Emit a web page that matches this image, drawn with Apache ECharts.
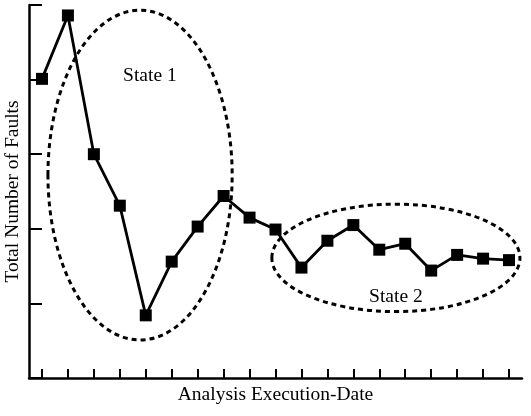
<!DOCTYPE html>
<html lang="en">
<head>
    <meta charset="UTF-8">
    <title>Total Number of Faults</title>
    <script src="https://cdn.jsdelivr.net/npm/echarts@6/dist/echarts.min.js"></script>
    <style>
      html, body { margin: 0; padding: 0; background: #fff; }
      #chart { width: 531px; height: 416px; }
    </style>
</head>
<body>
<div id="chart"></div>
<script>
  // data (y axis has no labels, 5 equal steps)
  let dates = ['1','2','3','4','5','6','7','8','9','10','11','12','13','14','15','16','17','18','19'];
  let faults = [40.1, 48.6, 30.0, 23.1, 8.4, 15.6, 20.3, 24.4, 21.5, 19.9, 14.8, 18.4, 20.5, 17.2, 18.0, 14.4, 16.5, 16.0, 15.8];
  let yTicks = [0, 10, 20, 30, 40, 50];

  // ellipses in data units: [centre index, centre value, half width (categories), half height (value)]
  let state1 = [3.78, 27.2, 3.55, 22.1];
  let state2 = [13.64, 16.1, 4.78, 7.2];

  const font = '"Liberation Serif", "Times New Roman", serif';

  const chart = echarts.init(document.getElementById('chart'));

  chart.setOption({
    animation: false,
    grid: { left: 29, right: 9, top: 5, bottom: 38, outerBoundsMode: 'none', containLabel: false },
    xAxis: {
      type: 'category',
      data: dates,
      boundaryGap: true,
      name: 'Analysis Execution-Date',
      nameLocation: 'middle',
      nameGap: 7,
      nameTextStyle: { fontFamily: font, fontSize: 19.5, color: '#000' },
      axisLine: { show: true, lineStyle: { color: '#000', width: 2.5 } },
      axisTick: { show: true, interval: 0, inside: true, length: 9, alignWithLabel: true, lineStyle: { color: '#000', width: 2 } },
      axisLabel: { show: false, interval: 0 },
      splitLine: { show: false }
    },
    yAxis: {
      type: 'value',
      min: yTicks[0],
      max: yTicks[yTicks.length - 1],
      interval: yTicks[1] - yTicks[0],
      name: 'Total Number of Faults',
      nameLocation: 'middle',
      nameGap: 6,
      nameTextStyle: { fontFamily: font, fontSize: 19.5, color: '#000' },
      axisLine: { show: true, lineStyle: { color: '#000', width: 2.5 } },
      axisTick: { show: true, inside: true, length: 13, lineStyle: { color: '#000', width: 2 } },
      axisLabel: { show: false },
      splitLine: { show: false }
    },
    series: [{
      type: 'line',
      data: faults,
      symbol: 'rect',
      symbolSize: 12,
      itemStyle: { color: '#000' },
      lineStyle: { color: '#000', width: 2.8 }
    }]
  });

  // category axis snaps to whole indexes, so interpolate between two of them
  let p0 = chart.convertToPixel({ gridIndex: 0 }, [0, 0]);
  let p1 = chart.convertToPixel({ gridIndex: 0 }, [1, 10]);
  let stepX = p1[0] - p0[0];
  let stepY = (p0[1] - p1[1]) / 10;
  function toPx(idx, val) {
    return [p0[0] + idx * stepX, p0[1] - val * stepY];
  }

  // dashed ellipses + labels
  function ellipseFrom(e) {
    let c = toPx(e[0], e[1]);
    return {
      type: 'ellipse',
      shape: { cx: c[0], cy: c[1], rx: e[2] * stepX, ry: e[3] * stepY },
      style: { fill: null, stroke: '#000', lineWidth: 3, lineDash: [5, 4] },
      z: 10
    };
  }
  function labelAt(text, idx, val) {
    let p = toPx(idx, val);
    return {
      type: 'text',
      x: p[0], y: p[1],
      style: { text: text, font: '19.5px ' + font, fill: '#000', align: 'center', verticalAlign: 'middle' },
      z: 10
    };
  }

  chart.setOption({
    graphic: [
      ellipseFrom(state1),
      ellipseFrom(state2),
      labelAt('State 1', 4.16, 40.5),
      labelAt('State 2', 13.64, 10.9)
    ]
  });
</script>
</body>
</html>
